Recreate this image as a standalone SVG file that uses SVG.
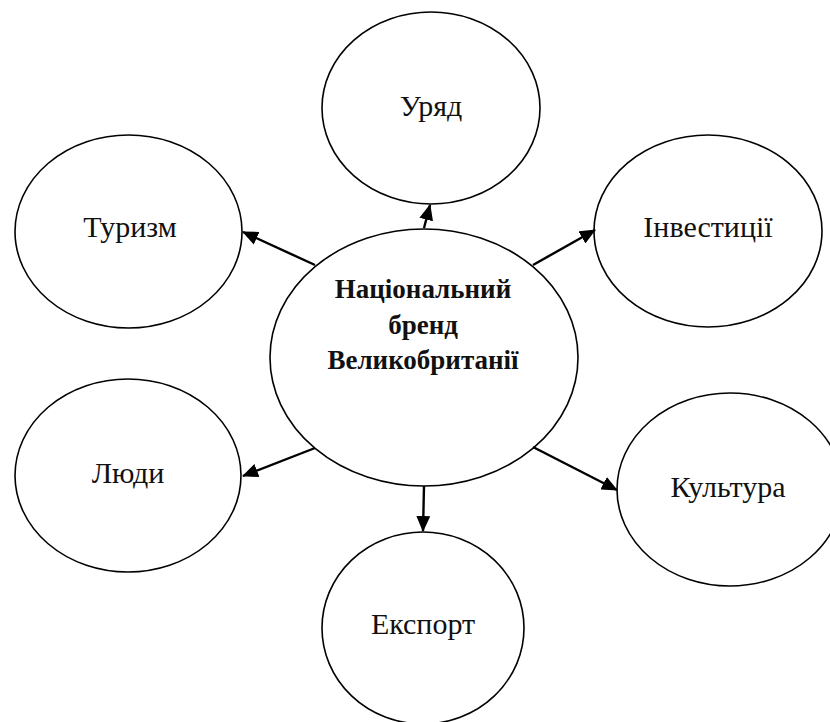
<svg xmlns="http://www.w3.org/2000/svg" width="830" height="722" viewBox="0 0 830 722">
<style>
.node ellipse{fill:#fff;stroke:#000;stroke-width:1.6}
.lbl{font-size:30px;fill:#111;text-anchor:middle}
.main{font-size:27px;font-weight:bold;fill:#111;text-anchor:middle}
.conn line{stroke:#000;stroke-width:2.4;marker-end:url(#ah)}
</style>
<defs>
<marker id="ah" markerUnits="userSpaceOnUse" markerWidth="16" markerHeight="14" viewBox="0 0 16 14" refX="15" refY="7" orient="auto">
<path d="M0,0 L16,7 L0,14 Z" fill="#000"/>
</marker>
</defs>
<rect width="830" height="722" fill="#fff"/>
<g font-family="'Liberation Serif', 'DejaVu Serif', serif">
<g id="n-uryad" class="node"><ellipse cx="431" cy="108" rx="109" ry="96"/><text class="lbl" x="431" y="116">Уряд</text></g>
<g id="n-turyzm" class="node"><ellipse cx="128.5" cy="231.5" rx="113.5" ry="96.5"/><text class="lbl" x="130" y="237">Туризм</text></g>
<g id="n-investytsii" class="node"><ellipse cx="708" cy="231" rx="114" ry="96"/><text class="lbl" x="708" y="237">Інвестиції</text></g>
<g id="n-lyudy" class="node"><ellipse cx="128" cy="475.5" rx="113" ry="96.5"/><text class="lbl" x="128" y="483">Люди</text></g>
<g id="n-kultura" class="node"><ellipse cx="730" cy="489.5" rx="113" ry="96.5"/><text class="lbl" x="728" y="497">Культура</text></g>
<g id="n-eksport" class="node"><ellipse cx="423" cy="628" rx="101" ry="96"/><text class="lbl" x="423" y="634">Експорт</text></g>
<g id="n-center" class="node"><ellipse cx="424" cy="357.5" rx="154" ry="128.5"/>
<text class="main" x="423" y="298">Національний</text>
<text class="main" x="423" y="334">бренд</text>
<text class="main" x="423" y="369">Великобританії</text></g>
</g>
<g id="connectors" class="conn">
<line x1="424" y1="228" x2="430" y2="205"/>
<line x1="315" y1="265" x2="243" y2="232"/>
<line x1="533" y1="265" x2="595" y2="230"/>
<line x1="315" y1="448" x2="243" y2="476"/>
<line x1="533" y1="447" x2="617" y2="490"/>
<line x1="424" y1="486" x2="423" y2="531"/>
</g>
</svg>
